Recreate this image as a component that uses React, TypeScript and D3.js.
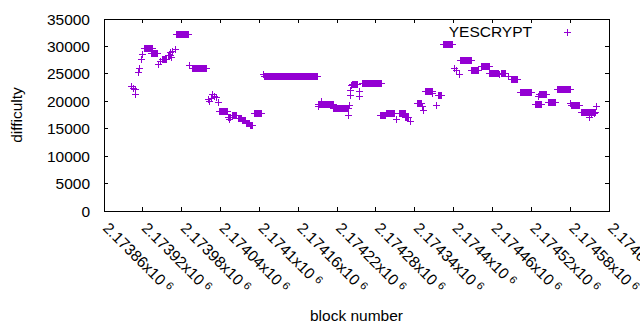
import React from 'react';
import * as d3 from 'd3';

// runs of blocks sharing one difficulty: [firstBlock, lastBlock, difficulty]
const runs: [number, number, number][] = [
  [2173922, 2173935, 29650], [2173933, 2173943, 28750], [2173950, 2173956, 27650],
  [2173959, 2173963, 28400], [2173972, 2173990, 32200], [2173997, 2174019, 26000],
  [2174039, 2174050, 18200], [2174052, 2174056, 17000], [2174058, 2174064, 17350],
  [2174067, 2174072, 16900], [2174074, 2174078, 16450], [2174080, 2174085, 16000],
  [2174086, 2174090, 15550], [2174092, 2174104, 17800], [2174108, 2174189, 24600],
  [2174191, 2174214, 19500], [2174215, 2174237, 18700], [2174244, 2174252, 23100],
  [2174259, 2174288, 23300], [2174287, 2174295, 17450], [2174296, 2174309, 17850],
  [2174316, 2174325, 17850], [2174325, 2174330, 17100], [2174344, 2174350, 19600],
  [2174356, 2174368, 21750], [2174376, 2174381, 21000], [2174384, 2174399, 30400],
  [2174410, 2174427, 27500], [2174428, 2174439, 25700], [2174445, 2174456, 26350],
  [2174456, 2174469, 25100], [2174474, 2174480, 25100], [2174489, 2174499, 23900],
  [2174503, 2174521, 21650], [2174526, 2174535, 19450], [2174533, 2174544, 21150],
  [2174547, 2174557, 19800], [2174560, 2174580, 22100], [2174582, 2174595, 19300],
  [2174597, 2174611, 18000], [2174613, 2174619, 18000],
];

// single blocks: [block, difficulty]
const points: [number, number][] = [
  [2173903, 22650], [2173905, 22350], [2173909, 22150], [2173909, 21250],
  [2173914, 25200], [2173915, 25900], [2173918, 27650], [2173920, 28450],
  [2173944, 26750], [2173947, 27200], [2173962, 28950], [2173965, 28000],
  [2173966, 29050], [2173970, 29500], [2173992, 26450],
  [2174021, 20400], [2174023, 19900], [2174026, 20500], [2174028, 21250],
  [2174030, 20850], [2174033, 20700], [2174037, 19800], [2174054, 16700],
  [2174106, 24950], [2174192, 19100], [2174196, 19900],
  [2174237, 17500], [2174239, 19300], [2174240, 21000], [2174241, 22050],
  [2174243, 22800], [2174255, 21850], [2174255, 20850],
  [2174312, 16750], [2174333, 16300], [2174352, 19050], [2174353, 18400],
  [2174368, 21450], [2174373, 19200], [2174378, 21000],
  [2174401, 26050], [2174405, 25550], [2174409, 24950],
  [2174443, 26300], [2174471, 24900], [2174484, 24450], [2174531, 20900],
  [2174580, 19550], [2174610, 17000], [2174613, 17650], [2174618, 17800],
  [2174621, 19000],
];

const xTicks = [
  2173860, 2173920, 2173980, 2174040, 2174100, 2174160, 2174220,
  2174280, 2174340, 2174400, 2174460, 2174520, 2174580, 2174640,
];
const yTicks = [0, 5000, 10000, 15000, 20000, 25000, 30000, 35000];

const W = 640;
const H = 330;
const m = { left: 104, right: 609, top: 19, bottom: 211 };
const color = '#9400d3';
const font = '"Liberation Sans", Arial, sans-serif';
const fs = 15.5;
const ps = 3.5; // half size of a "+" marker
const tick = 4;

const x = d3.scaleLinear().domain([2173860, 2174640]).range([m.left, m.right]);
const y = d3.scaleLinear().domain([0, 35000]).range([m.bottom, m.top]);

const fmtMantissa = (v: number) => parseFloat((v / 1e6).toFixed(5)).toString();

const plus = (cx: number, cy: number) =>
  `M${cx - ps},${cy}H${cx + ps}M${cx},${cy - ps}V${cy + ps}`;

export default function App() {
  return (
    <svg
      width={W}
      height={H}
      style={{ position: 'absolute', left: 0, top: 0, background: '#fff' }}
      fontFamily={font}
      fontSize={fs}
    >
      {/* marks */}
      <g fill={color} stroke={color} strokeWidth={1} shapeRendering="crispEdges">
        {runs.map(([b0, b1, v], i) => {
          const x0 = x(b0);
          const x1 = x(b1);
          const cy = y(v);
          return (
            <g key={'r' + i}>
              <rect x={x0} y={cy - ps} width={x1 - x0} height={2 * ps} stroke="none" />
              <path d={`M${x0 - ps},${cy}H${x1 + ps}M${x0},${cy - ps}V${cy + ps}M${x1},${cy - ps}V${cy + ps}`} fill="none" />
            </g>
          );
        })}
        {points.map(([b, v], i) => (
          <path key={'p' + i} d={plus(x(b), y(v))} fill="none" />
        ))}
      </g>

      {/* border and ticks */}
      <g stroke="#000" strokeWidth={1} shapeRendering="crispEdges" fill="none">
        <rect x={m.left} y={m.top} width={m.right - m.left} height={m.bottom - m.top} />
        {yTicks.map((t) => (
          <path key={'yt' + t} d={`M${m.left},${y(t)}h${tick}M${m.right},${y(t)}h${-tick}`} />
        ))}
        {xTicks.map((t) => (
          <path key={'xt' + t} d={`M${x(t)},${m.bottom}v${-tick}M${x(t)},${m.top}v${tick}`} />
        ))}
      </g>

      {/* y tick labels */}
      <g textAnchor="end" fill="#000">
        {yTicks.map((t) => (
          <text key={'yl' + t} x={90} y={y(t) + 5.5}>
            {t}
          </text>
        ))}
      </g>

      {/* x tick labels */}
      <g fill="#000">
        {xTicks.map((t) => (
          <text key={'xl' + t} transform={`translate(${x(t) - 2},${m.bottom + 18}) rotate(45)`}>
            {fmtMantissa(t) + 'x10'}
            <tspan dx={4} dy={-4} fontSize={11}>6</tspan>
          </text>
        ))}
      </g>

      {/* axis titles */}
      <text transform={`translate(22,${(m.top + m.bottom) / 2}) rotate(-90)`} textAnchor="middle">
        difficulty
      </text>
      <text x={(m.left + m.right) / 2} y={321} textAnchor="middle">
        block number
      </text>

      {/* legend */}
      <text x={532} y={37} textAnchor="end">YESCRYPT</text>
      <path d={plus(567, 32)} stroke={color} strokeWidth={1} shapeRendering="crispEdges" />
    </svg>
  );
}
